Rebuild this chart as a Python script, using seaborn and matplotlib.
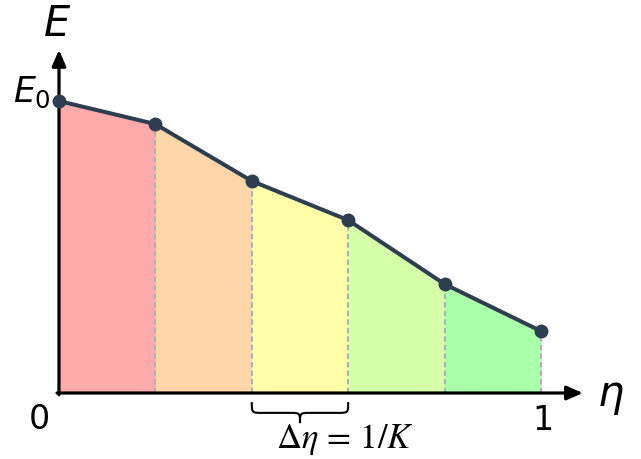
import numpy as np
import pandas as pd
import matplotlib
matplotlib.use("Agg")
import matplotlib.pyplot as plt
import seaborn as sns
from matplotlib.path import Path
from matplotlib.patches import PathPatch

# ---- data ----
eta = [0.0, 0.2, 0.4, 0.6, 0.8, 1.0]
energy = [1.0, 0.921, 0.726, 0.592, 0.373, 0.212]
fill_colors = ["#FFAAAA", "#FFD6AA", "#FFFFAA", "#D6FFAA", "#AAFFAA"]
line_color = "#2C3E50"

sns.set_theme(style="white")
plt.rcParams['font.family'] = ['DejaVu Sans']
plt.rcParams['text.color'] = 'black'

fig = plt.figure(figsize=(6.41, 4.59), dpi=100)
ax = fig.add_axes([0, 0, 1, 1])
ax.set_xlim(-0.1224, 1.2075)
ax.set_ylim(-0.226, 1.346)
ax.axis("off")

# filled segments
for i in range(len(eta) - 1):
    ax.fill_between(eta[i:i + 2], [0, 0], energy[i:i + 2], color=fill_colors[i], lw=0, zorder=1)

# dashed separators
for x, y in zip(eta[1:], energy[1:]):
    ax.plot([x, x], [0, y], ls=(0, (2.6, 1.5)), color="#B0B0B0", lw=1.5, zorder=2)

# axes arrows
ax.annotate("", xy=(1.087, 0), xytext=(-0.004, 0),
            arrowprops=dict(arrowstyle="-|>,head_length=0.8,head_width=0.35", color="black", lw=2.3,
                            shrinkA=0, shrinkB=0), zorder=3)
ax.annotate("", xy=(0, 1.175), xytext=(0, -0.006),
            arrowprops=dict(arrowstyle="-|>,head_length=0.8,head_width=0.35", color="black", lw=2.3,
                            shrinkA=0, shrinkB=0), zorder=3)

# line with markers
df = pd.DataFrame({"eta": eta, "E": energy})
sns.lineplot(data=df, x="eta", y="E", ax=ax, color=line_color, lw=2.9,
             marker="o", markersize=10, markeredgewidth=0, zorder=5)
ax.set_xlabel("")
ax.set_ylabel("")

# labels
ax.text(-0.004, 1.265, "$E$", fontsize=30, ha="center", va="center", color="black")
ax.text(1.145, -0.01, r"$\eta$", fontsize=30, ha="center", va="center", color="black")
ax.text(-0.056, 1.03, "$E_0$", fontsize=25, ha="center", va="center", color="black")
ax.text(-0.04, -0.09, "0", fontsize=24, ha="center", va="center", color="black")
ax.text(1.004, -0.093, "1", fontsize=24, ha="center", va="center", color="black")

# brace from 0.4 to 0.6
yt, ym, yb = -0.031, -0.068, -0.103
xl, xr, xm = 0.4, 0.6, 0.5
c = 0.022
verts = [
    (xl, yt), (xl, ym), (xl, ym), (xl + c, ym),
    (xm - c, ym), (xm, ym), (xm, ym), (xm, yb),
    (xm, ym), (xm, ym), (xm + c, ym),
    (xr - c, ym), (xr, ym), (xr, ym), (xr, yt),
]
codes = [Path.MOVETO, Path.CURVE4, Path.CURVE4, Path.CURVE4,
         Path.LINETO, Path.CURVE4, Path.CURVE4, Path.CURVE4,
         Path.CURVE4, Path.CURVE4, Path.CURVE4,
         Path.LINETO, Path.CURVE4, Path.CURVE4, Path.CURVE4]
ax.add_patch(PathPatch(Path(verts, codes), fill=False, color="black", lw=1.5, zorder=4))
ax.text(0.593, -0.158, r"$\Delta\eta\,=\,1/K$", fontsize=25, ha="center", va="center",
        math_fontfamily="stix", color="black")

fig.savefig("out.png", dpi=100)
